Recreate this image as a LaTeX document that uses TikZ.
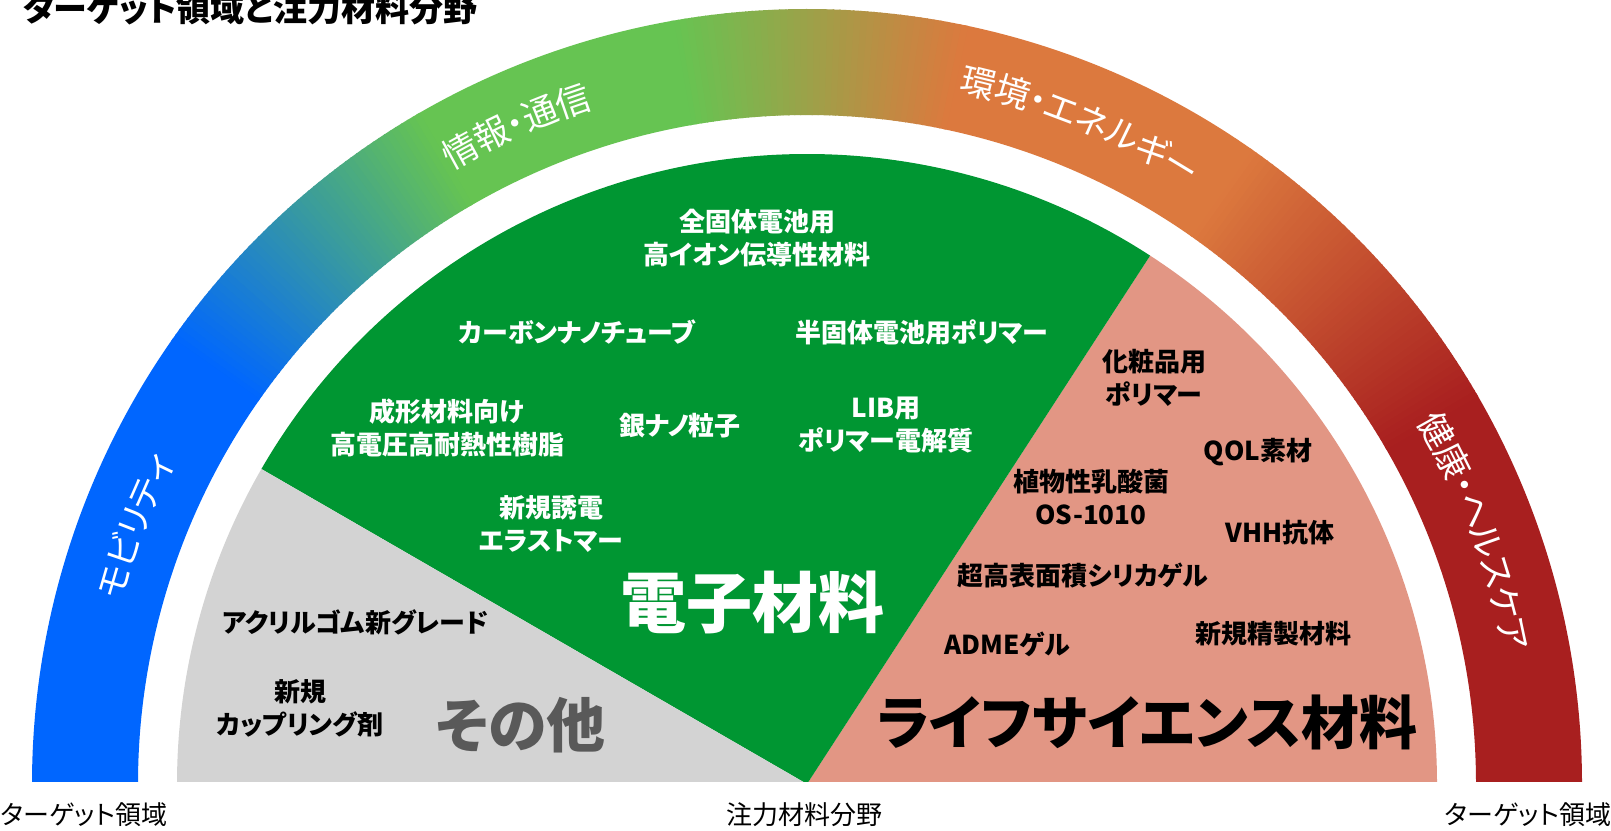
\documentclass[tikz,border=0pt]{standalone}
\usepackage{fontspec}
\usetikzlibrary{decorations.text}
\setmainfont{Noto Sans CJK JP}[RawFeature=+palt]
\definecolor{bandblue}{RGB}{0,102,255}
\definecolor{bandgreen}{RGB}{102,196,82}
\definecolor{bandorange}{RGB}{220,121,62}
\definecolor{bandred}{RGB}{168,31,31}
\definecolor{piegreen}{RGB}{0,150,50}
\definecolor{piegrey}{RGB}{211,211,211}
\definecolor{piepink}{RGB}{226,150,132}
\definecolor{othergrey}{RGB}{89,89,89}
\newcommand\bandsolid[3]{%
  \fill[#3] (#1:775) arc[start angle=#1, end angle=#2, radius=775] -- (#2:669) arc[start angle=#2, end angle=#1, radius=669] -- cycle;}
\newcommand\bandgrad[4]{%
  \pgfmathtruncatemacro\nseg{(#2-#1)*2}%
  \foreach \i in {1,...,\nseg} {%
    \pgfmathsetmacro\aa{#1+(\i-1)*0.5}%
    \pgfmathsetmacro\pp{100*(\i-0.5)/\nseg}%
    \fill[#4!\pp!#3] (\aa:775) arc[start angle=\aa, end angle=\aa+0.6, radius=775] -- (\aa+0.6:669) arc[start angle=\aa+0.6, end angle=\aa, radius=669] -- cycle;
  }}
\newcommand\piesector[3]{%
  \fill[#3] (0,0) -- (#1:630) arc[start angle=#1, end angle=#2, radius=630] -- cycle;}
\tikzset{
  lbl/.style={font=\bfseries\fontsize{26}{33}\selectfont, align=center, inner sep=0pt},
  wlbl/.style={lbl, text=white},
  klbl/.style={lbl, text=black},
  bottomlbl/.style={font=\fontsize{26}{30}\selectfont, inner sep=0pt, text=black},
  arctext/.style={decorate, decoration={text along path, text align=center, raise=-13pt, text={|\color{white}\fontsize{35}{38}\selectfont|#1}}}
}
\begin{document}
\begin{tikzpicture}[x=1pt, y=1pt]
\useasboundingbox (0,0) rectangle (1611,830);
\fill[white] (0,0) rectangle (1611,830);
\begin{scope}
  \clip (0,49) rectangle (1611,830);
  \begin{scope}[shift={(807,46)}]
    % outer target bands
    \bandsolid{0}{30.3}{bandred}
    \bandgrad{30}{55}{bandred}{bandorange}
    \bandsolid{54.9}{78.3}{bandorange}
    \bandgrad{78}{100}{bandorange}{bandgreen}
    \bandsolid{99.9}{120.3}{bandgreen}
    \bandgrad{120}{145}{bandgreen}{bandblue}
    \bandsolid{144.9}{180}{bandblue}
    % pie sectors
    \piesector{0}{57}{piepink}
    \piesector{57}{150}{piegreen}
    \piesector{150}{180}{piegrey}
    % arc labels
    \path[arctext={モビリティ}] (175:722) arc[start angle=175, end angle=143, radius=722];
    \path[arctext={情報・通信}] (130:722) arc[start angle=130, end angle=97.6, radius=722];
    \path[arctext={環境・エネルギー}] (85:722) arc[start angle=85, end angle=50, radius=722];
    \path[arctext={健康・ヘルスケア}] (38:722) arc[start angle=38, end angle=3.4, radius=722];
  \end{scope}
\end{scope}
% title
\node[font=\bfseries\fontsize{34}{38}\selectfont, inner sep=0pt] (title) at (250,821) {ターゲット領域と注力材料分野};
% electronic materials
\node[wlbl] (e1) at (757,591.5) {全固体電池用\\高イオン伝導性材料};
\node[wlbl] (e2) at (577,498) {カーボンナノチューブ};
\node[wlbl] (e3) at (922,498) {半固体電池用ポリマー};
\node[wlbl] (e4) at (447,402.5) {成形材料向け\\高電圧高耐熱性樹脂};
\node[wlbl] (e5) at (680,404) {銀ナノ粒子};
\node[wlbl] (e6) at (886,405) {LIB用\\ポリマー電解質};
\node[wlbl] (e7) at (551,306) {新規誘電\\エラストマー};
\node[font=\bfseries\fontsize{66}{72}\selectfont, text=white, inner sep=0pt] (ebig) at (752,227) {電子材料};
% others
\node[klbl] (o1) at (355,208) {アクリルゴム新グレード};
\node[klbl] (o2) at (300,122) {新規\\カップリング剤};
\node[font=\bfseries\fontsize{59}{64}\selectfont, text=othergrey, inner sep=0pt] (obig) at (521,105) {その他};
% life science
\node[klbl] (l1) at (1154,452.5) {化粧品用\\ポリマー};
\node[klbl] (l2) at (1258,378) {QOL素材};
\node[klbl] (l3) at (1091,332.5) {植物性乳酸菌\\OS-1010};
\node[klbl] (l4) at (1280,297) {VHH抗体};
\node[klbl] (l5) at (1083,254) {超高表面積シリカゲル};
\node[klbl] (l6) at (1007,186) {ADMEゲル};
\node[klbl] (l7) at (1273,196) {新規精製材料};
\node[font=\bfseries\fontsize{58}{64}\selectfont, text=black, inner sep=0pt] (lbig) at (1147,108) {ライフサイエンス材料};
% bottom labels
\node[bottomlbl] (b1) at (84,15) {ターゲット領域};
\node[bottomlbl] (b2) at (804,15) {注力材料分野};
\node[bottomlbl] (b3) at (1528,15) {ターゲット領域};
\end{tikzpicture}
\end{document}
